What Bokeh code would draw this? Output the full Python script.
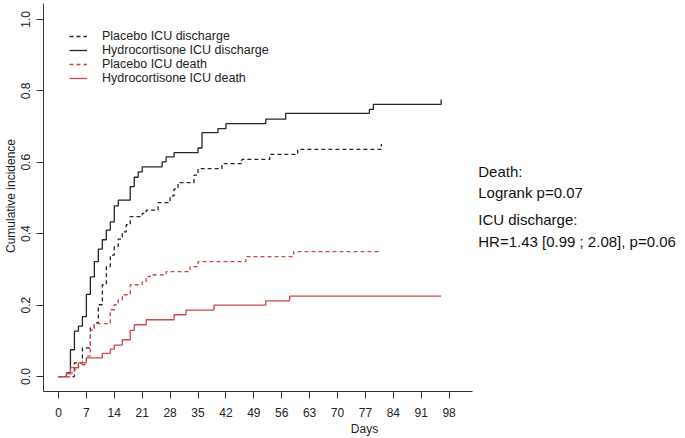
from bokeh.plotting import figure
from bokeh.models import FixedTicker, Legend, LegendItem, Range1d
from bokeh.core.properties import value
from bokeh.embed import file_html
from bokeh.resources import INLINE

# ---- data ----
x_ticks = [0, 7, 14, 21, 28, 35, 42, 49, 56, 63, 70, 77, 84, 91, 98]
y_ticks = [0.0, 0.2, 0.4, 0.6, 0.8, 1.0]
y_tick_labels = ["0.0", "0.2", "0.4", "0.6", "0.8", "1.0"]

hc_discharge_days = [0, 2, 3, 4, 5, 6, 7, 8, 9, 10, 11, 12, 13, 14, 15, 18, 19, 20, 21,
                     26, 27, 29, 35, 36, 40, 42, 52, 57, 78, 79, 96]
hc_discharge_inc = [0.0, 0.01, 0.075, 0.127, 0.141, 0.168, 0.23, 0.279, 0.322, 0.357, 0.383,
                    0.41, 0.433, 0.478, 0.494, 0.532, 0.558, 0.573, 0.587, 0.601, 0.615, 0.627,
                    0.64, 0.683, 0.694, 0.708, 0.721, 0.737, 0.748, 0.762, 0.776]

pl_discharge_days = [0, 4, 6, 8, 9, 10, 11, 12, 13, 14, 15, 16, 17, 18, 21, 22, 25, 28, 29,
                     30, 34, 35, 41, 46, 53, 60, 81]
pl_discharge_inc = [0.0, 0.038, 0.08, 0.136, 0.15, 0.201, 0.257, 0.308, 0.34, 0.365, 0.385,
                    0.405, 0.425, 0.448, 0.457, 0.466, 0.487, 0.506, 0.525, 0.543, 0.564, 0.582,
                    0.596, 0.608, 0.622, 0.636, 0.651]

pl_death_days = [0, 3, 4, 5, 7, 8, 9, 13, 14, 15, 16, 18, 21, 22, 23, 27, 33, 35, 47, 59, 81]
pl_death_inc = [0.0, 0.01, 0.02, 0.033, 0.057, 0.13, 0.148, 0.187, 0.201, 0.215, 0.229, 0.257,
                0.266, 0.28, 0.285, 0.294, 0.308, 0.322, 0.336, 0.35, 0.35]

hc_death_days = [0, 2, 3, 5, 7, 11, 13, 14, 16, 18, 19, 22, 29, 32, 39, 52, 58, 96]
hc_death_inc = [0.0, 0.008, 0.025, 0.038, 0.052, 0.065, 0.077, 0.088, 0.103, 0.129, 0.145,
                0.159, 0.173, 0.186, 0.2, 0.212, 0.225, 0.225]

legend_labels = ["Placebo ICU discharge", "Hydrocortisone ICU discharge",
                 "Placebo ICU death", "Hydrocortisone ICU death"]
annot_lines = ["Death:", "Logrank p=0.07", "ICU discharge:", "HR=1.43 [0.99 ; 2.08], p=0.06"]

BLACK = "#262626"
RED = "#cc4a4a"
FONT = "Liberation Sans"

X0, X1 = -3.76, 157.3      # frame covers plot area plus the annotation area on the right
AX_X1 = 103.8              # end of the drawn x axis
Y0, Y1 = -0.0419, 1.053

p = figure(width=685, height=438,
           x_range=Range1d(X0, X1), y_range=Range1d(Y0, Y1),
           output_backend="svg", toolbar_location=None,
           min_border_left=43, min_border_right=0, min_border_top=0, min_border_bottom=46)
p.outline_line_color = None
p.grid.visible = False
p.background_fill_color = "white"
p.border_fill_color = "white"

r_pl_dis = p.step(pl_discharge_days, pl_discharge_inc, mode="after", line_color=BLACK,
                  line_width=1.3, line_dash="4 3")
r_hc_dis = p.step(hc_discharge_days, hc_discharge_inc, mode="after", line_color=BLACK,
                  line_width=1.3)
r_pl_dea = p.step(pl_death_days, pl_death_inc, mode="after", line_color=RED,
                  line_width=1.3, line_dash="4 3")
r_hc_dea = p.step(hc_death_days, hc_death_inc, mode="after", line_color=RED,
                  line_width=1.3)

# axes
xa = p.xaxis[0]
xa.ticker = FixedTicker(ticks=x_ticks)
xa.axis_label = "Days"
xa.bounds = (X0, AX_X1)
ya = p.yaxis[0]
ya.ticker = FixedTicker(ticks=y_ticks)
ya.major_label_overrides = {t: l for t, l in zip(y_ticks, y_tick_labels)}
ya.major_label_orientation = "vertical"
ya.axis_label = "Cumulative incidence"
ya.bounds = (Y0, 1.045)
for ax in (xa, ya):
    ax.minor_tick_line_color = None
    ax.major_tick_in = 0
    ax.major_tick_out = 7
    ax.axis_line_color = "#333333"
    ax.major_tick_line_color = "#333333"
    ax.major_label_text_font = FONT
    ax.major_label_text_font_size = "12px"
    ax.major_label_text_color = "#222222"
    ax.axis_label_text_font = FONT
    ax.axis_label_text_font_size = "12px"
    ax.axis_label_text_font_style = "normal"
    ax.axis_label_text_color = "#222222"
xa.major_label_standoff = 9
xa.axis_label_standoff = 2
ya.major_label_standoff = 6
ya.axis_label_standoff = 1

legend = Legend(items=[LegendItem(label=legend_labels[0], renderers=[r_pl_dis]),
                       LegendItem(label=legend_labels[1], renderers=[r_hc_dis]),
                       LegendItem(label=legend_labels[2], renderers=[r_pl_dea]),
                       LegendItem(label=legend_labels[3], renderers=[r_hc_dea])],
                location=(26, 306), padding=0, margin=0, spacing=0,
                glyph_width=18, glyph_height=14, label_height=14, label_standoff=15,
                label_text_font=FONT, label_text_font_size="12.5px", label_text_color="#222222",
                border_line_color=None, background_fill_alpha=0)
p.add_layout(legend)

annot_x = [105.3, 105.3, 105.3, 105.3]
annot_y = [0.575, 0.514, 0.439, 0.377]
p.text(x=annot_x, y=annot_y, text=annot_lines, text_font=value(FONT),
       text_font_size="15px", text_color="#111111", text_baseline="middle", text_align="left")

open("out.html", "w").write(file_html(p, INLINE))
